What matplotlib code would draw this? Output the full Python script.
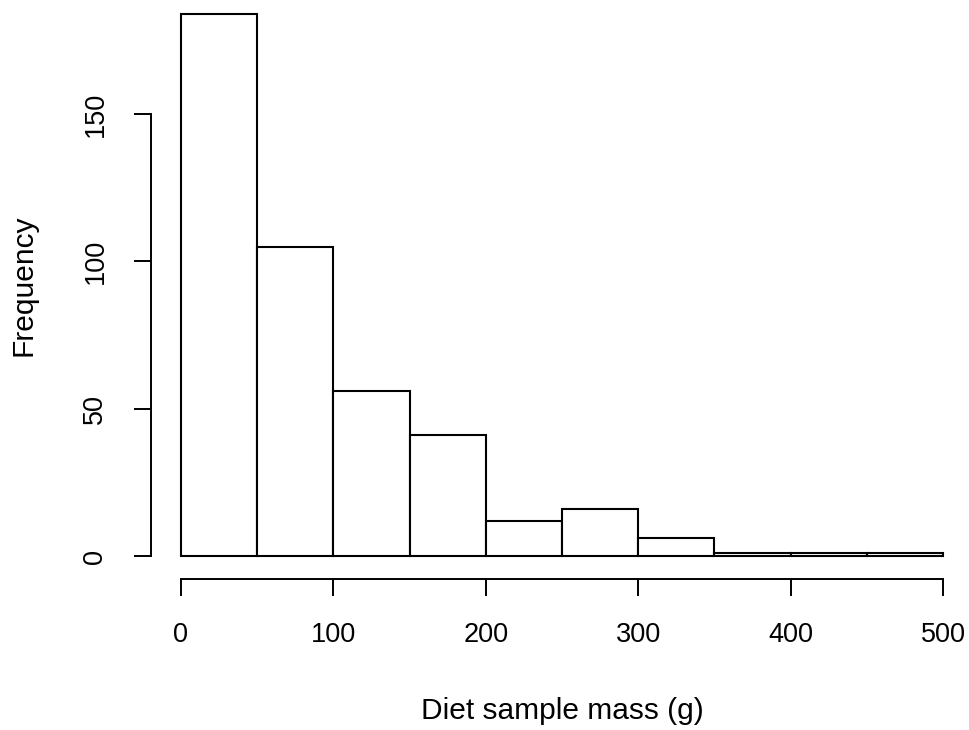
import matplotlib
matplotlib.use("Agg")
import matplotlib.pyplot as plt

# Histogram of diet sample mass, 50 g bins
bin_edges = [0, 50, 100, 150, 200, 250, 300, 350, 400, 450, 500]
counts = [184, 105, 56, 41, 12, 16, 6, 1, 1, 1]
x_ticks = [0, 100, 200, 300, 400, 500]
y_ticks = [0, 50, 100, 150]
x_label = "Diet sample mass (g)"
y_label = "Frequency"

plt.rcParams["font.family"] = ["Liberation Sans", "DejaVu Sans"]

W, H = 969, 730
fig = plt.figure(figsize=(W / 100, H / 100), dpi=100)

# plot region in pixels (left, right, top, bottom)
L, R, T, B = 150.5, 973.5, 0.0, 579.0
ax = fig.add_axes([L / W, 1 - B / H, (R - L) / W, (B - T) / H])

widths = [b - a for a, b in zip(bin_edges[:-1], bin_edges[1:])]
ax.bar(bin_edges[:-1], counts, width=widths, align="edge",
       facecolor="white", edgecolor="black", linewidth=1.5)

px_per_unit = (556 - 114) / 150.0
ax.set_xlim(-20, 520)
ax.set_ylim(-(B - 556) / px_per_unit, 556 / px_per_unit)

for side in ("top", "right"):
    ax.spines[side].set_visible(False)
ax.spines["left"].set_bounds(0, 150)
ax.spines["bottom"].set_bounds(0, 500)
for side in ("left", "bottom"):
    ax.spines[side].set_linewidth(1.4)

ax.set_xticks(x_ticks)
ax.set_yticks(y_ticks)
ax.set_yticklabels([str(v) for v in y_ticks], rotation=90, va="center")
ax.tick_params(axis="both", length=12.3, width=1.4, labelsize=19.5,
               colors="black")
ax.tick_params(axis="x", pad=19)
ax.tick_params(axis="y", pad=18)

fig.text(0.5 * (L + R) / W, 1 - 697 / H, x_label, ha="center", va="top",
         fontsize=21.5)
fig.text(24 / W, 1 - 285 / H, y_label, ha="center", va="center",
         rotation=90, fontsize=21.5)

fig.savefig("out.png", dpi=100, facecolor="white")
